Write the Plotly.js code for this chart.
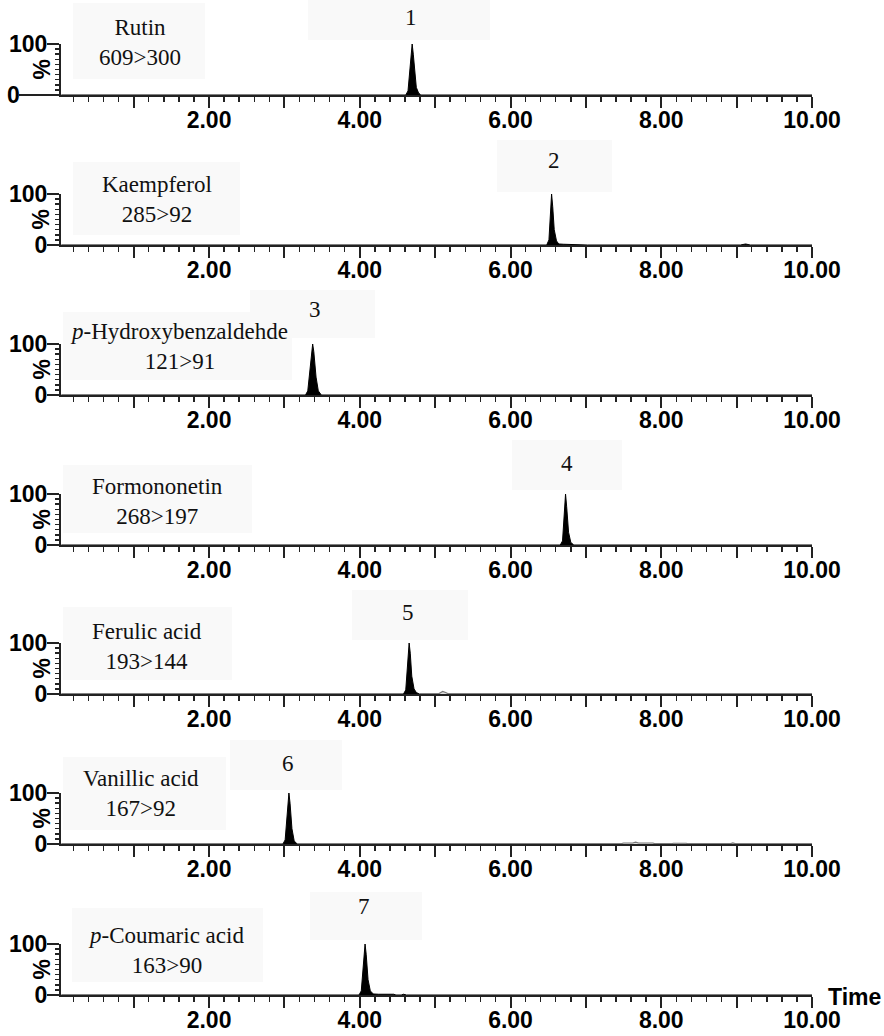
<!DOCTYPE html>
<html><head><meta charset="utf-8">
<script src="https://cdn.plot.ly/plotly-3.0.1.min.js"></script>
<style>html,body{margin:0;padding:0;background:#fff}#chart{width:884px;height:1036px}</style>
</head><body><div id="chart"></div>
<script>
// ---------- DATA ----------
const compounds = ["Rutin", "Kaempferol", "<i>p</i>-Hydroxybenzaldehde", "Formononetin", "Ferulic acid", "Vanillic acid", "<i>p</i>-Coumaric acid"];
const transitions = ["609&gt;300", "285&gt;92", "121&gt;91", "268&gt;197", "193&gt;144", "167&gt;92", "163&gt;90"];
const peakLabels = ["1", "2", "3", "4", "5", "6", "7"];
const timeTickVals = [1, 2, 3, 4, 5, 6, 7, 8, 9, 10];
const timeTickText = ["", "2.00", "", "4.00", "", "6.00", "", "8.00", "", "10.00"];
const pctTickVals = [0, 100];
const pctTickText = ["0", "100"];

// chromatogram traces (time, % intensity)
const t1 = [0.04, 4.61, 4.64, 4.67, 4.695, 4.71, 4.73, 4.75, 4.78, 4.81, 10];
const y1 = [0, 0, 8, 55, 100, 80, 40, 15, 4, 0, 0];
const t2 = [0.04, 6.48, 6.51, 6.53, 6.545, 6.56, 6.58, 6.61, 6.64, 6.70, 6.95, 7.02, 9.05, 9.12, 9.18, 10];
const y2 = [0, 0, 10, 60, 100, 75, 30, 8, 2, 1.5, 1, 0, 0, 2, 0, 0];
const t3 = [0.04, 3.28, 3.31, 3.35, 3.375, 3.39, 3.42, 3.45, 3.49, 10];
const y3 = [0, 0, 8, 60, 100, 85, 35, 8, 0, 0];
const t4 = [0.04, 6.66, 6.69, 6.71, 6.73, 6.745, 6.77, 6.80, 6.84, 10];
const y4 = [0, 0, 8, 60, 100, 75, 25, 5, 0, 0];
const t5 = [0.04, 4.58, 4.61, 4.64, 4.655, 4.67, 4.69, 4.72, 4.75, 4.79, 10];
const y5 = [0, 0, 8, 60, 100, 80, 35, 10, 3, 0, 0];
const t6 = [0.04, 2.98, 3.01, 3.04, 3.06, 3.075, 3.10, 3.13, 3.17, 10];
const y6 = [0, 0, 8, 60, 100, 80, 30, 6, 0, 0];
const t7 = [0.04, 3.99, 4.02, 4.05, 4.07, 4.085, 4.11, 4.14, 4.18, 4.25, 4.45, 4.48, 4.55, 4.58, 4.62, 10];
const y7 = [0, 0, 8, 60, 100, 80, 30, 8, 2, 1.5, 1.5, 0, 0, 1.5, 0, 0];
// minor grey signals
const t5b = [5.04, 5.07, 5.10, 5.14, 5.18];
const y5b = [0, 3, 5, 3, 0];
const t6b = [7.45, 7.50, 7.62, 7.66, 7.70, 7.89, 7.93, 8.12, 8.16, 8.33, 8.37, 8.90, 8.95, 9.00];
const y6b = [0, 2, 2, 3.5, 2, 2, 0, 0, 1.5, 1.5, 0, 0, 2, 0];

const seriesT = [t1, t2, t3, t4, t5, t6, t7];
const seriesY = [y1, y2, y3, y4, y5, y6, y7];

// ---------- LAYOUT GEOMETRY ----------
const W = 884, H = 1036;
const baselines = [95, 245, 395, 545, 694, 844, 995];
const panelH = 51;
const xL = 61, xR = 812;
const xRange = [0.036, 10];
const px = x => x / W;
const py = y => 1 - y / H;

const sansBold = {family: "Liberation Sans, Arial, sans-serif", size: 23, color: "#000", weight: "bold"};
const serif = {family: "Liberation Serif, Times New Roman, serif", size: 23, color: "#111"};

const labelPos = [[140, 43], [157, 199], [179, 346], [157, 501], [147, 646], [141, 793], [166, 950]];
const peakLabelPos = [[411, 18], [554, 160], [315, 310], [567, 463], [408, 612], [288, 763], [364, 906]];
const textBoxes = [[73, 3, 205, 79], [73, 162, 240, 235], [63, 312, 292, 380], [63, 465, 252, 533], [63, 607, 232, 680], [63, 757, 226, 830], [72, 908, 263, 982]];
const numBoxes = [[308, 0, 490, 40], [497, 140, 612, 192], [250, 290, 375, 338], [512, 440, 622, 490], [352, 590, 468, 640], [230, 740, 342, 790], [310, 892, 422, 940]];

const data = [];
const layout = {
  width: W, height: H,
  margin: {l: 0, r: 0, t: 0, b: 0},
  paper_bgcolor: "#fff", plot_bgcolor: "rgba(0,0,0,0)",
  showlegend: false,
  annotations: [], shapes: []
};

for (let i = 0; i < 7; i++) {
  const n = i + 1;
  const xa = "xaxis" + (n === 1 ? "" : n), ya = "yaxis" + (n === 1 ? "" : n);
  const xr = "x" + (n === 1 ? "" : n), yr = "y" + (n === 1 ? "" : n);
  data.push({
    x: seriesT[i], y: seriesY[i], xaxis: xr, yaxis: yr,
    type: "scatter", mode: "lines", fill: "tozeroy",
    fillcolor: "#000", line: {color: "#000", width: 1}, hoverinfo: "skip"
  });
  const yb = baselines[i];
  layout[xa] = {
    domain: [px(xL), px(xR)], range: xRange, anchor: yr,
    showgrid: false, zeroline: false, showline: true, linecolor: "#222", linewidth: 2,
    tickmode: "array", tickvals: timeTickVals, ticktext: timeTickText,
    ticks: "outside", ticklen: 11, tickwidth: 2, tickcolor: "#222",
    minor: {tickmode: "linear", tick0: 0, dtick: 0.2, ticks: "outside", ticklen: 5, tickwidth: 1.5, tickcolor: "#222", showgrid: false},
    tickfont: sansBold, ticklabelstandoff: -8
  };
  layout[ya] = {
    domain: [py(yb), py(yb - panelH)], range: [0, 100], anchor: xr,
    showgrid: false, zeroline: false, showline: true, linecolor: "#222", linewidth: 2,
    tickmode: "array", tickvals: i === 0 ? [100] : pctTickVals, ticktext: i === 0 ? ["100"] : pctTickText,
    ticks: "outside", ticklen: 12, tickwidth: 2, tickcolor: "#222",
    minor: {tickmode: "linear", tick0: 0, dtick: 10, ticks: "outside", ticklen: 4, tickwidth: 1.5, tickcolor: "#222", showgrid: false},
    tickfont: sansBold, ticklabelstandoff: -5
  };
  // % title
  layout.annotations.push({xref: "paper", yref: "paper", x: px(41), y: py(yb - panelH / 2), text: "%", textangle: -90,
    showarrow: false, font: sansBold, xanchor: "center", yanchor: "middle"});
  // compound label
  layout.annotations.push({xref: "paper", yref: "paper", x: px(labelPos[i][0]), y: py(labelPos[i][1]),
    text: compounds[i] + "<br>" + transitions[i], showarrow: false, font: serif, align: "center",
    xanchor: "center", yanchor: "middle"});
  // peak number
  layout.annotations.push({xref: "paper", yref: "paper", x: px(peakLabelPos[i][0]), y: py(peakLabelPos[i][1]),
    text: peakLabels[i], showarrow: false, font: serif, xanchor: "center", yanchor: "middle"});
  // faint grey boxes
  [textBoxes[i], numBoxes[i]].forEach(b => layout.shapes.push({type: "rect", xref: "paper", yref: "paper", layer: "below",
    x0: px(b[0]), y0: py(b[3]), x1: px(b[2]), y1: py(b[1]), fillcolor: "#f9f9f9", line: {width: 0}}));
}

// minor grey signals
data.push({x: t5b, y: y5b, xaxis: "x5", yaxis: "y5", type: "scatter", mode: "lines", fill: "tozeroy",
  fillcolor: "#ddd", line: {color: "#777", width: 1.2}, hoverinfo: "skip"});
data.push({x: t6b, y: y6b, xaxis: "x6", yaxis: "y6", type: "scatter", mode: "lines", fill: "tozeroy",
  fillcolor: "#ddd", line: {color: "#777", width: 1.2}, hoverinfo: "skip"});

// panel 1 zero label drawn further left with its long tick
layout.annotations.push({xref: "paper", yref: "paper", x: px(13), y: py(baselines[0]), text: "0",
  showarrow: false, font: sansBold, xanchor: "center", yanchor: "middle"});
layout.shapes.push({type: "line", xref: "paper", yref: "paper", x0: px(19), x1: px(xL), y0: py(baselines[0]), y1: py(baselines[0]),
  line: {color: "#222", width: 2}});
// "Time" axis label
layout.annotations.push({xref: "paper", yref: "paper", x: px(826), y: py(997), text: "Time",
  showarrow: false, font: sansBold, xanchor: "left", yanchor: "middle"});

Plotly.newPlot("chart", data, layout, {staticPlot: true});
</script>
</body></html>
